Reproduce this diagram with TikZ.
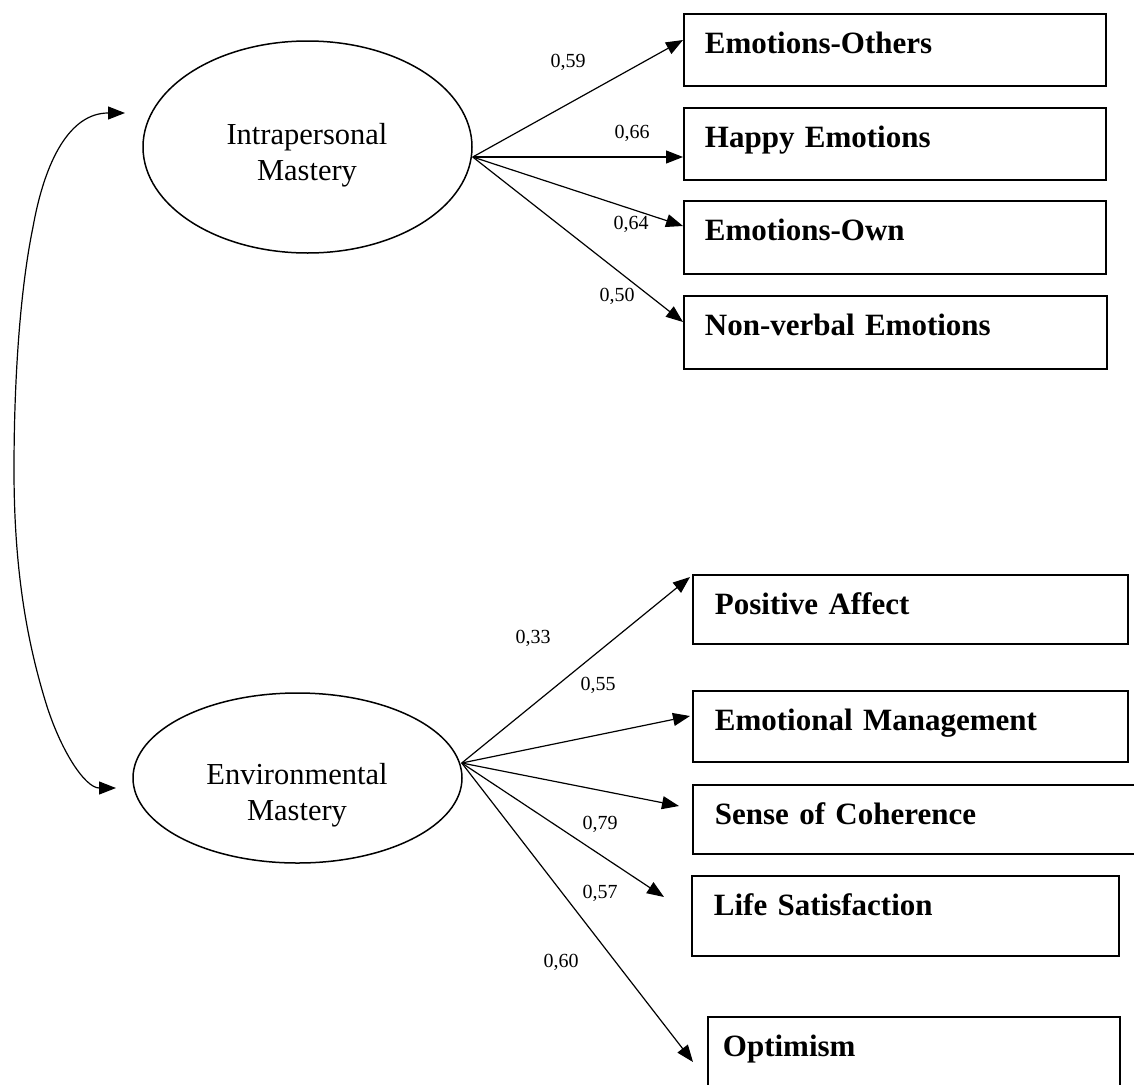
\documentclass[tikz,border=0pt]{standalone}
\usepackage{fontspec}
\setmainfont{Liberation Serif}
\usetikzlibrary{positioning}
\usetikzlibrary{calc}
\usetikzlibrary{arrows.meta}
\usetikzlibrary{shapes.geometric}

\tikzset{
  latent/.style={draw, ellipse, line width=1.5pt, inner sep=0pt},
  latenttext/.style={align=center, inner sep=0pt, font=\fontsize{30.5}{36}\selectfont},
  indicator/.style={draw, rectangle, line width=1.8pt, anchor=north west, inner xsep=22pt, inner ysep=0pt,
    text height=40pt, text depth=32pt, align=left, font=\fontsize{31}{36}\selectfont\bfseries},
  loading/.style={->, line width=1.2pt},
  coef/.style={inner sep=0pt, font=\fontsize{20}{24}\selectfont}
}

\begin{document}
\begin{tikzpicture}[x=1pt, y=-1pt, >={Triangle[length=17pt, width=13pt]}]
    \useasboundingbox (0,0) rectangle (1134,1084);

    % latent variables
    \node[latent, minimum width=329pt, minimum height=212pt] (intra) at (307.5,147) {};
    \node[latenttext] (intralbl) at (307,155) {Intrapersonal\\Mastery};
    \node[latent, minimum width=329pt, minimum height=170pt] (env) at (297.5,778) {};
    \node[latenttext] (envlbl) at (297,795) {Environmental\\Mastery};

    % indicators
    \node[indicator, inner xsep=21pt, text width=380pt] (eoth) at (683,13) {Emotions-Others};
    \node[indicator, inner xsep=21pt, text width=380pt] (happy) at (683,107) {Happy Emotions};
    \node[indicator, inner xsep=21pt, text width=380pt, text depth=33pt] (eown) at (683,200) {Emotions-Own};
    \node[indicator, inner xsep=21pt, text width=381pt, text depth=33pt] (nonverb) at (683,295) {Non-verbal Emotions};

    \node[indicator, text width=391pt, text depth=29pt] (posaff) at (692,574) {Positive Affect};
    \node[indicator, text width=391pt, text depth=31pt] (emman) at (692,690) {Emotional Management};
    \node[indicator, text width=416pt, text depth=29pt] (sense) at (692,784) {Sense of Coherence};
    \node[indicator, text width=383pt, text depth=40pt] (lifesat) at (691,875) {Life Satisfaction};
    \node[indicator, inner xsep=15pt, text width=382pt, text depth=35pt] (optim) at (707,1016) {Optimism};

    % loadings
    \coordinate (intrasrc) at ($(intra.east)+(0,10)$);
    \coordinate (envsrc) at ($(env.east)+(-1,-15)$);

    \draw[loading] (intrasrc) -- ($(eoth.north west)+(0,27)$);
    \draw[loading] (intrasrc) -- ($(happy.north west)+(0,50)$);
    \draw[loading] (intrasrc) -- ($(eown.north west)+(0,26)$);
    \draw[loading] (intrasrc) -- ($(nonverb.north west)+(0,27)$);

    \draw[loading] (envsrc) -- ($(posaff.north west)+(-2,3)$);
    \draw[loading] (envsrc) -- ($(emman.north west)+(-2,26)$);
    \draw[loading] (envsrc) -- ($(sense.north west)+(-13,22)$);
    \draw[loading] (envsrc) -- ($(lifesat.north west)+(-27,22)$);
    \draw[loading] (envsrc) -- ($(optim.north west)+(-14,46)$);

    \node[coef] (c59) at (568,62) {0,59};
    \node[coef] (c66) at (632,133) {0,66};
    \node[coef] (c64) at (631,224) {0,64};
    \node[coef] (c50) at (617,296) {0,50};

    \node[coef] (c33) at (533,638) {0,33};
    \node[coef] (c55) at (598,685) {0,55};
    \node[coef] (c79) at (600,824) {0,79};
    \node[coef] (c57) at (600,893) {0,57};
    \node[coef] (c60) at (561,962) {0,60};

    % covariance
    \coordinate (covtop) at (125,113);
    \coordinate (covbot) at (116,788);
    \draw[<->, line width=1.2pt] (covtop) .. controls (70,113) and (45,160) .. (33,227)
        .. controls (20,290) and (14,380) .. (14,470)
        .. controls (14,580) and (30,650) .. (45,700)
        .. controls (60,750) and (85,788) .. (covbot);
\end{tikzpicture}
\end{document}
